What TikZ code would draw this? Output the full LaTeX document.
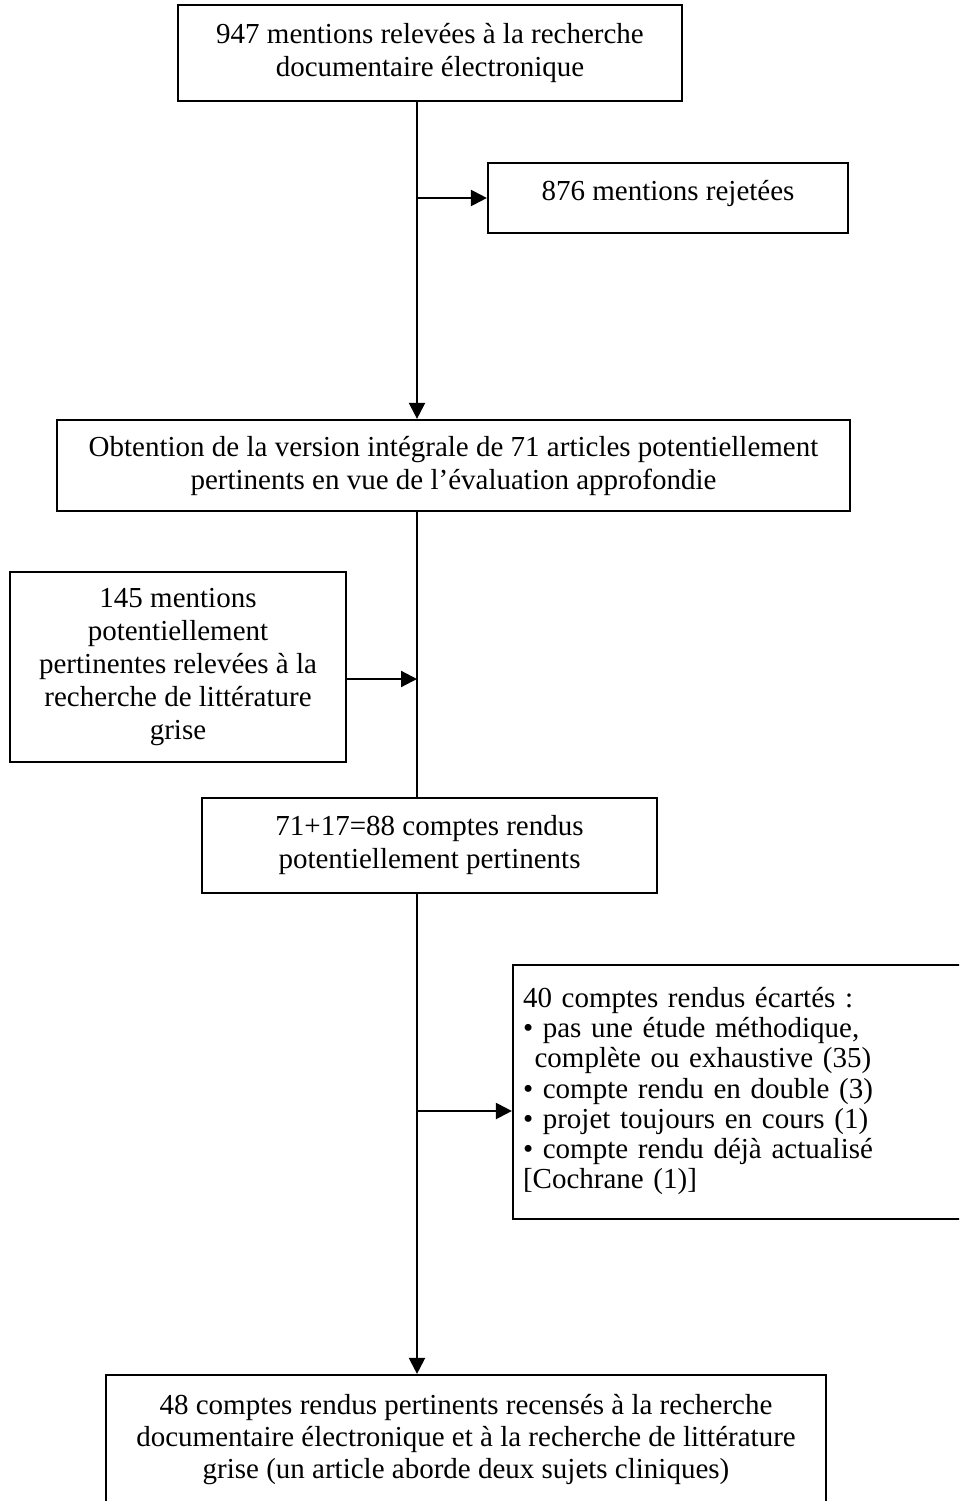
\documentclass[tikz,border=0pt]{standalone}
\usepackage{fontspec}
\setmainfont{Liberation Serif}
\usetikzlibrary{arrows.meta}
\begin{document}
\begin{tikzpicture}[x=1pt,y=-1pt,
  box/.style={draw, line width=2.2pt, inner sep=0pt, align=center,
    font=\fontsize{29}{33}\selectfont},
  arr/.style={line width=2.2pt, -{Triangle[length=16pt,width=16pt]}},
  conn/.style={line width=2.2pt}]
\useasboundingbox (0,0) rectangle (959,1501);
\clip (0,0) rectangle (959,1501);
\fill[white] (0,0) rectangle (959,1501);
\node[box, minimum width=504pt, minimum height=96pt] (top) at (430,53)
  {947 mentions relevées à la recherche\\documentaire électronique};
\node[box, minimum width=360pt, minimum height=70pt, text depth=16pt] (rej) at (668,198)
  {876 mentions rejetées};
\node[box, minimum width=793pt, minimum height=91pt] (b3) at (453.5,465.5)
  {Obtention de la version intégrale de 71 articles potentiellement\\pertinents en vue de l’évaluation approfondie};
\node[box, minimum width=336pt, minimum height=190pt] (left) at (178,667)
  {145 mentions\\potentiellement\\pertinentes relevées à la\\recherche de littérature\\grise};
\node[box, minimum width=455pt, minimum height=95pt] (b5) at (429.5,845.5)
  {71+17=88 comptes rendus\\potentiellement pertinents};
\node[box, minimum width=457pt, minimum height=254pt, align=left, text width=437pt,
  inner xsep=10pt, font=\fontsize{29}{30.3}\selectfont] (right) at (741.5,1092)
  {\begin{tabular}{@{}l@{}}
   40 comptes rendus écartés :\\
   • pas une étude méthodique,\\
   \hspace*{0.4em}complète ou exhaustive (35)\\
   • compte rendu en double (3)\\
   • projet toujours en cours (1)\\
   • compte rendu déjà actualisé\\
   {[}Cochrane (1)]
   \end{tabular}};
\node[box, minimum width=720pt, minimum height=130pt, font=\fontsize{29}{32}\selectfont] (bot) at (466,1440)
  {48 comptes rendus pertinents recensés à la recherche\\documentaire électronique et à la recherche de littérature\\grise (un article aborde deux sujets cliniques)};
\coordinate (spine) at (417,0);
\draw[arr] (spine |- top.south) -- (spine |- b3.north);
\draw[arr] (spine |- rej.west) -- (rej.west);
\draw[conn] (spine |- b3.south) -- (spine |- b5.north);
\draw[arr] ([yshift=-12pt]left.east) -- ([yshift=-12pt]left.east -| spine);
\draw[arr] (spine |- b5.south) -- (spine |- bot.north);
\draw[arr] ([yshift=-19pt]right.west -| spine) -- ([yshift=-19pt]right.west);
\end{tikzpicture}
\end{document}
